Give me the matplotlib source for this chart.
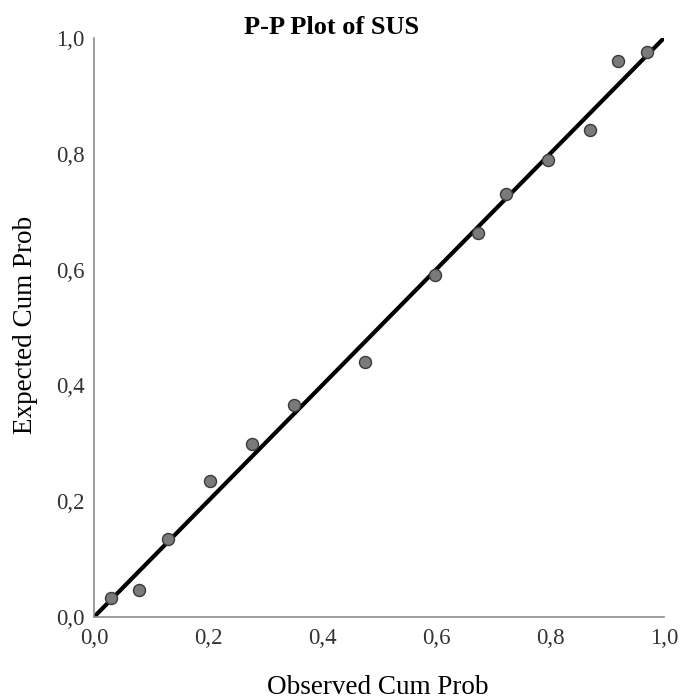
import matplotlib
matplotlib.use("Agg")
import matplotlib.pyplot as plt
import numpy as np

observed = [0.030, 0.079, 0.129, 0.203, 0.278, 0.351, 0.475, 0.599, 0.673, 0.722, 0.797, 0.871, 0.920, 0.970]
expected = [0.033, 0.047, 0.135, 0.235, 0.298, 0.367, 0.440, 0.590, 0.664, 0.731, 0.790, 0.841, 0.961, 0.976]
ticks = [0.0, 0.2, 0.4, 0.6, 0.8, 1.0]
tick_labels = ["0,0", "0,2", "0,4", "0,6", "0,8", "1,0"]

plt.rcParams['font.family'] = ['Liberation Serif', 'DejaVu Serif']

fig = plt.figure(figsize=(6.82, 7.0), dpi=100)
ax = fig.add_axes([94/682, 83/700, 570/682, 579/700])
ax.set_xlim(0, 1)
ax.set_ylim(0, 1)
ax.plot([0, 1], [0, 1], color='black', lw=3, zorder=2, solid_capstyle='butt')
ax.scatter(observed, expected, s=75, facecolor='#7a7a7a', edgecolor='#3a3a3a', lw=1, zorder=3)

for s in ['top', 'right']:
    ax.spines[s].set_visible(False)
for s in ['left', 'bottom']:
    ax.spines[s].set_color('#8c8c8c')
    ax.spines[s].set_linewidth(1.2)
ax.set_xticks(ticks)
ax.set_xticklabels(tick_labels)
ax.set_yticks(ticks)
ax.set_yticklabels(tick_labels)
ax.tick_params(length=0, labelsize=16.5, colors='#333333')
ax.tick_params(axis='x', pad=8)
ax.tick_params(axis='y', pad=7)

fig.text(332/682, 1 - 28/700, "P-P Plot of SUS", ha='center', va='center', fontsize=19, fontweight='bold')
fig.text(378/682, 1 - 688/700, "Observed Cum Prob", ha='center', va='center', fontsize=19.5)
fig.text(26/682, 1 - 325/700, "Expected Cum Prob", ha='center', va='center', fontsize=19.5, rotation=90)

fig.savefig("out.png", dpi=100)
